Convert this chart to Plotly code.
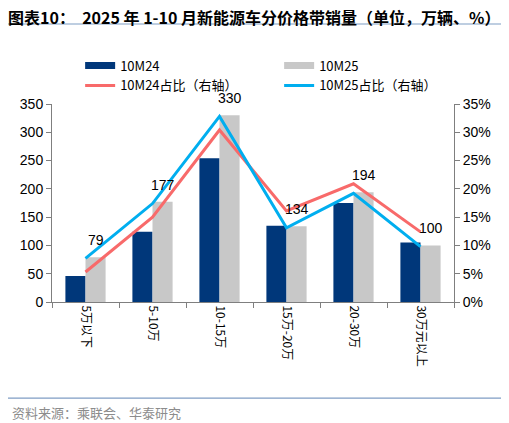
import plotly.graph_objects as go

# price bands and sales (10k units), share (%) on right axis
cats = ['5万以下', '5-10万', '10-15万', '15万-20万', '20-30万', '30万元以上']
sales_24 = [46, 124, 254, 135, 175, 105]
sales_25 = [79, 177, 330, 134, 194, 100]
share_24 = [5.3, 15.0, 30.4, 16.1, 20.9, 12.4]
share_25 = [7.7, 17.4, 32.8, 13.1, 19.2, 9.8]

navy = '#00377A'
grey = '#C8C8C8'
red = '#F86A6A'
cyan = '#00AEEF'
axis_col = '#7F7F7F'
font_lat = 'Liberation Sans, Arial, sans-serif'
font_cjk = 'Noto Sans CJK SC, sans-serif'

fig = go.Figure()

fig.add_trace(go.Bar(x=cats, y=sales_24, name='10M24', marker_color=navy,
                     marker_line_width=0, showlegend=False))
fig.add_trace(go.Bar(x=cats, y=sales_25, name='10M25', marker_color=grey,
                     marker_line_width=0, showlegend=False))

fig.add_trace(go.Scatter(x=cats, y=share_24, name='10M24占比（右轴）', yaxis='y2',
                         mode='lines', line=dict(color=red, width=3), legendrank=3))
fig.add_trace(go.Scatter(x=cats, y=share_25, name='10M25占比（右轴）', yaxis='y2',
                         mode='lines', line=dict(color=cyan, width=3), legendrank=4))

# legend-only entries so the bar keys look like wide strips
fig.add_trace(go.Scatter(x=[None], y=[None], mode='lines', name='10M24',
                         line=dict(color=navy, width=7), legendrank=1))
fig.add_trace(go.Scatter(x=[None], y=[None], mode='lines', name='10M25',
                         line=dict(color=grey, width=7), legendrank=2))

# value labels above the 10M25 bars
for i, v in enumerate(sales_25):
    fig.add_annotation(x=i + 0.15, y=v, xref='x', yref='y', text=str(v),
                       showarrow=False, yshift=17,
                       font=dict(family=font_lat, size=14, color='black'))

fig.update_layout(
    width=501, height=415,
    margin=dict(l=44, r=55, t=96, b=121),
    paper_bgcolor='white', plot_bgcolor='white',
    barmode='group', bargap=0.4, bargroupgap=0,
    title=dict(text='<b>图表10：  2025 年 1-10 月新能源车分价格带销量（单位，万辆、%）</b>',
               x=0.0, xanchor='left', y=0.976, yanchor='middle',
               font=dict(family=font_cjk, size=16, color='black')),
    legend=dict(orientation='h', x=0.07, xanchor='left', y=1.27, yanchor='top',
                entrywidth=154, font=dict(family=font_cjk, size=13, color='black'),
                bgcolor='rgba(0,0,0,0)'),
    xaxis=dict(type='category', categoryorder='array', categoryarray=cats,
               tickangle=90, showline=True, linecolor=axis_col, linewidth=1,
               ticks='outside', tickson='boundaries', ticklen=5, tickcolor=axis_col,
               tickfont=dict(family=font_cjk, size=12, color='black'),
               showgrid=False),
    yaxis=dict(range=[0, 350], dtick=50, showline=True, linecolor=axis_col,
               ticks='outside', ticklen=5, tickcolor=axis_col, showgrid=False,
               zeroline=False, tickfont=dict(family=font_lat, size=14, color='black')),
    yaxis2=dict(range=[0, 35], dtick=5, ticksuffix='%', overlaying='y', side='right',
                showline=True, linecolor=axis_col, ticks='outside', ticklen=5,
                tickcolor=axis_col, showgrid=False, zeroline=False,
                tickfont=dict(family=font_lat, size=14, color='black')),
)

# rule under the title and above the source note
fig.add_shape(type='line', xref='paper', yref='paper', x0=-0.11, x1=1.122,
              y0=1.404, y1=1.404, line=dict(color='#7F9DC4', width=1.2))
fig.add_shape(type='line', xref='paper', yref='paper', x0=-0.11, x1=1.122,
              y0=-0.485, y1=-0.485, line=dict(color='#7F9DC4', width=1.2))
fig.add_annotation(text='资料来源：乘联会、华泰研究', xref='paper', yref='paper',
                   x=-0.105, y=-0.556, xanchor='left', yanchor='middle', showarrow=False,
                   font=dict(family=font_cjk, size=13, color='#8C8C8C'))

fig.write_html('out.html')
